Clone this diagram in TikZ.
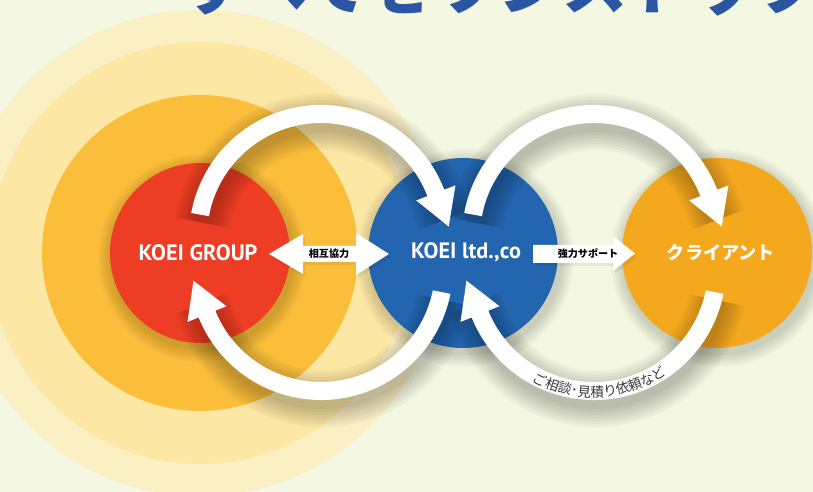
\documentclass[tikz,border=0pt]{standalone}
\usepackage{fontspec}
\setmainfont{PT Sans}
\newfontfamily\jpfont{Noto Sans CJK JP}
\usetikzlibrary{calc,decorations.text}
\definecolor{bgc}{HTML}{F4F7E1}
\definecolor{ringA}{HTML}{FBEFC4}
\definecolor{ringB}{HTML}{FDE7A4}
\definecolor{ringC}{HTML}{FBBE3B}
\definecolor{grpred}{HTML}{EE3D25}
\definecolor{koeiblue}{HTML}{2465AF}
\definecolor{clientorange}{HTML}{F4A81E}
\definecolor{titleblue}{HTML}{2A55A3}
\definecolor{textgray}{HTML}{3A3A3A}
% bent arrow: #1 centre, #2 start angle (tail), #3 end angle (head base), #4 style
\newcommand\bentarrow[4]{%
  \fill[#4] ($(#1)+(#2:132)$) arc[start angle=#2, end angle=#3, radius=132]
    -- ($(#1)+(#3:144)$) -- ($(#1)+(#3:123)+({#3-90}:36)$)
    -- ($(#1)+(#3:102)$) -- ($(#1)+(#3:114)$)
    arc[start angle=#3, end angle=#2, radius=114] -- cycle;}
\newcommand\bentshadow[3]{%
  \foreach \w in {20,26,...,56}{%
    \draw[line width=\w*0.3mm, black, opacity=0.035]
      ($(#1)+(#2:123)+(2,-8)$) arc[start angle=#2, end angle=#3, radius=123]
      -- ($(#1)+(#3:123)+({#3-90}:20)+(2,-8)$);}}
\newcommand\circshadow[2]{%
  \foreach \k in {2,4,...,14}{%
    \fill[black, opacity=0.025] ($(#1)+(2,-5)$) circle[radius=#2+\k];}}
\tikzset{
  disc/.style={circle, inner sep=0pt},
  whitelabel/.style={text=white, font=\bfseries\fontsize{19}{19}\selectfont},
  jplabel/.style={text=white, font=\jpfont\bfseries\fontsize{15.5}{15.5}\selectfont},
  arrowlabel/.style={text=black, font=\jpfont\bfseries\fontsize{8.6}{8.6}\selectfont, inner sep=0pt},
}
\begin{document}
\begin{tikzpicture}[x=0.3mm,y=0.3mm]
\useasboundingbox (0,0) rectangle (813,492);
\clip (0,0) rectangle (813,492);
\fill[bgc] (0,0) rectangle (813,492);
% halo rings
\coordinate (halo) at (200,239);
\fill[ringA] (halo) circle[radius=243];
\fill[ringB] (halo) circle[radius=211];
\fill[ringC] (halo) circle[radius=158];
% title (cut off at top)
\node[anchor=base, text=titleblue, font=\jpfont\bfseries\fontsize{55.5}{55.5}\selectfont, inner sep=0pt] (title) at (502,482) {すべてをワンストップ};
% circle shadows
\circshadow{200,239}{90}
\circshadow{463,239}{95}
\circshadow{717,239}{95}
% circles
\node[disc, fill=grpred, minimum size=54mm] (grp) at (200,239) {};
\node[disc, fill=koeiblue, minimum size=57mm] (koei) at (463,239) {};
\node[disc, fill=clientorange, minimum size=57mm] (client) at (717,239) {};
% arc centres
\coordinate (ta) at (321,255);
\coordinate (ba) at (321,224);
\coordinate (tb) at (594,255);
\coordinate (bb) at (594,224);
% arc shadows
\bentshadow{ta}{169.5}{21}
\bentshadow{ba}{-11.3}{-158}
\bentshadow{tb}{169.5}{21}
\bentshadow{bb}{-11.3}{-158}
% arcs
\bentarrow{ta}{169.5}{21}{white}
\bentarrow{ba}{-11.3}{-158}{white}
\bentarrow{tb}{169.5}{21}{white}
\bentarrow{bb}{-11.3}{-158}{white}
% text along lower right arc
\path[decorate, decoration={text along path, text align=center,
  text={|\jpfont\fontsize{11.6}{11.6}\selectfont\color{textgray}|ご相談･見積り依頼など}}]
  ($(bb)+(-141:129)$) arc[start angle=-141, end angle=-33, radius=129];
% horizontal arrows
\fill[black, opacity=0.06] (271,235) -- (305,255) -- (305,243) -- (358,243) -- (358,256) -- (391,235) -- (358,214) -- (358,227) -- (305,227) -- (305,215) -- cycle;
\fill[white] (269,238) -- (303,258) -- (303,246) -- (356,246) -- (356,259) -- (389,238) -- (356,217) -- (356,230) -- (303,230) -- (303,218) -- cycle;
\fill[black, opacity=0.06] (535,244) -- (615,244) -- (615,253) -- (637,235.5) -- (615,218) -- (615,226) -- (535,226) -- cycle;
\fill[white] (533,247) -- (613,247) -- (613,256) -- (635,238.5) -- (613,221) -- (613,229) -- (533,229) -- cycle;
\node[arrowlabel] (mutual) at (329,238) {相互協力};
\node[arrowlabel] (support) at (588,238) {強力サポート};
% circle labels
\node[whitelabel] (grptext) at (198,239) {KOEI GROUP};
\node[whitelabel] (koeitext) at (466,240) {KOEI ltd.,co};
\node[jplabel] (clienttext) at (721,239) {クライアント};
\end{tikzpicture}
\end{document}
